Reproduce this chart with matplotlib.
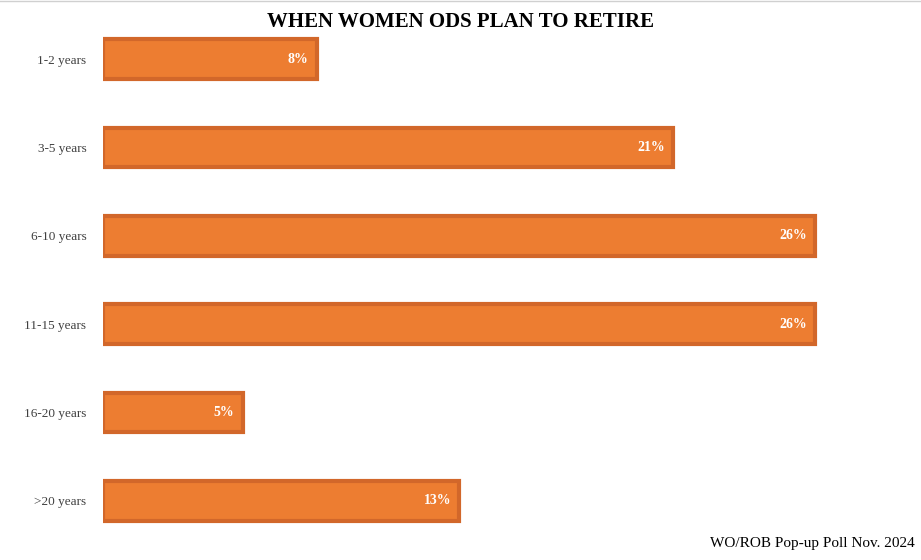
import matplotlib
matplotlib.use("Agg")
import matplotlib.pyplot as plt

categories = ["1-2 years", "3-5 years", "6-10 years", "11-15 years", "16-20 years", ">20 years"]
values = [7.8, 20.8, 26.0, 26.0, 5.1, 13.0]
labels = ["8%", "21%", "26%", "26%", "5%", "13%"]

W, H = 921, 560
fig = plt.figure(figsize=(W/100, H/100), dpi=100)
ax = fig.add_axes([103/W, 1-545/H, 812/W, 530/H])
plt.rcParams["font.family"] = "Liberation Serif"
y = list(range(len(categories)))
ax.barh(y, values, height=0.45, color="#ED7D31", edgecolor="#D2672A", linewidth=3)
for yi, v, lab in zip(y, values, labels):
    ax.text(v - 0.3, yi, lab, ha="right", va="center", color="white",
            fontsize=10, fontweight="bold", family="Liberation Serif")
ax.set_xlim(0, 812/27.4)
ax.set_ylim(5.5, -0.5)
ax.set_yticks(y)
ax.set_yticklabels(categories, fontsize=9.5, color="#404040", family="Liberation Serif")
ax.tick_params(axis="y", length=0, pad=12)
ax.set_xticks([])
for s in ax.spines.values():
    s.set_visible(False)
fig.text(0.5, 1-22/H, "WHEN WOMEN ODS PLAN TO RETIRE", ha="center", va="center",
         fontsize=15, fontweight="bold", family="Liberation Serif")
fig.text(1-6/W, 1-544/H, "WO/ROB Pop-up Poll Nov. 2024", ha="right", va="center",
         fontsize=11, family="Liberation Serif")
fig.add_artist(plt.Line2D([0, 1], [1-1/H, 1-1/H], color="#d0d0d0", lw=1))
fig.savefig("out.png", dpi=100, facecolor="white")
